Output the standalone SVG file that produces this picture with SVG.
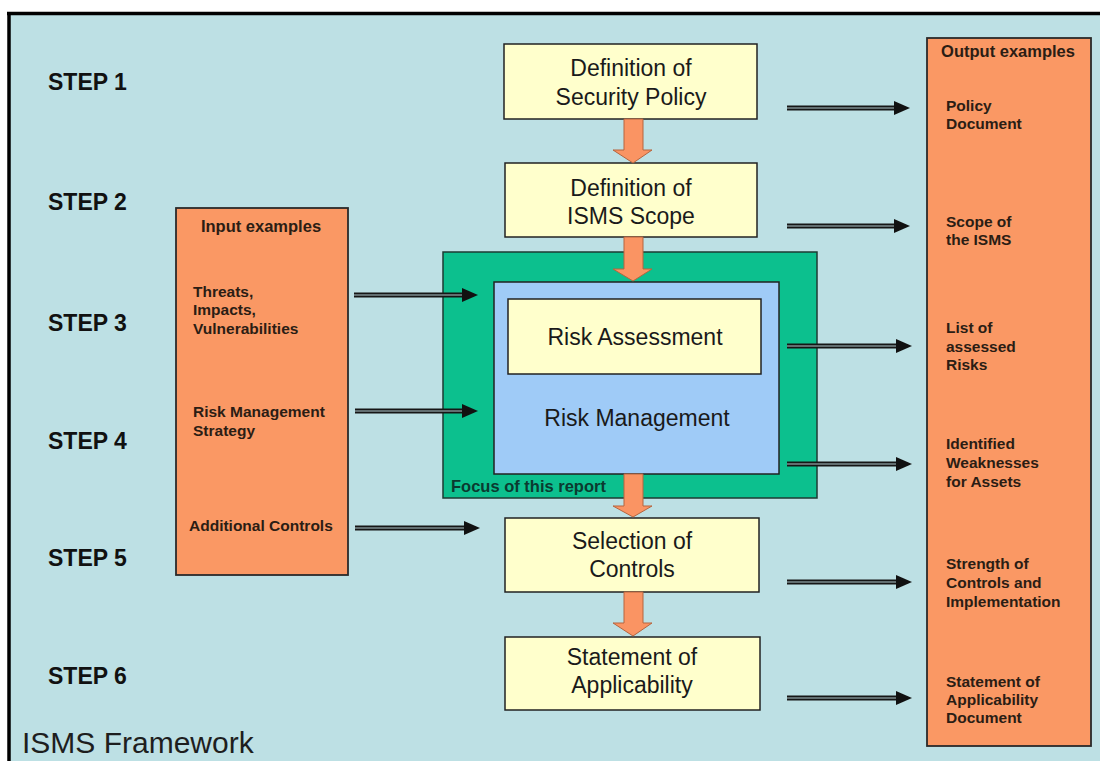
<svg xmlns="http://www.w3.org/2000/svg" width="1100" height="761" viewBox="0 0 1100 761">
<defs>
<style>
.step{font-family:"Liberation Sans",Arial,sans-serif;font-weight:bold;font-size:23px;fill:#111;}
.main{font-family:"Liberation Sans",Arial,sans-serif;font-size:23px;fill:#1a1a1a;text-anchor:middle;}
.lbl{font-family:"Liberation Sans",Arial,sans-serif;font-weight:bold;font-size:15.5px;fill:#2b1d14;}
.hdr{font-family:"Liberation Sans",Arial,sans-serif;font-weight:bold;font-size:16.5px;fill:#2b1d14;text-anchor:middle;}
.ybox{fill:#ffffcc;stroke:#222;stroke-width:1.5;}
.obox{fill:#fa9864;stroke:#2a2a2a;stroke-width:1.8;}
.dl{stroke:#161616;stroke-width:5;fill:none;}
.dli{stroke:#7d8c8f;stroke-width:1.4;fill:none;}
.blk{fill:#fa9463;stroke:#b5653f;stroke-width:1;}
</style>
<marker id="ah" markerUnits="userSpaceOnUse" viewBox="0 0 16 14" refX="2" refY="7" markerWidth="16" markerHeight="14" orient="auto">
<path d="M0,0 L16,7 L0,14 z" fill="#111"/>
</marker>
</defs>
<rect x="0" y="0" width="1100" height="761" fill="#ffffff"/>
<rect x="9" y="14" width="1091" height="747" fill="#bde0e4"/>
<line x1="7" y1="13.5" x2="1100" y2="13.5" stroke="#000" stroke-width="3.5"/>
<line x1="9" y1="12" x2="9" y2="761" stroke="#000" stroke-width="3.5"/>

<g id="steps">
<text class="step" x="48" y="90">STEP 1</text>
<text class="step" x="48" y="210">STEP 2</text>
<text class="step" x="48" y="331">STEP 3</text>
<text class="step" x="48" y="449">STEP 4</text>
<text class="step" x="48" y="566">STEP 5</text>
<text class="step" x="48" y="684">STEP 6</text>
</g>

<g id="title">
<text x="22" y="753" font-family="Liberation Sans, Arial, sans-serif" font-size="30" fill="#1e1e1e">ISMS Framework</text>
</g>

<g id="input-examples">
<rect class="obox" x="176" y="208" width="172" height="367"/>
<text class="hdr" x="261" y="232">Input examples</text>
<text class="lbl" x="193" y="297">Threats,</text>
<text class="lbl" x="193" y="315">Impacts,</text>
<text class="lbl" x="193" y="334">Vulnerabilities</text>
<text class="lbl" x="193" y="417">Risk Management</text>
<text class="lbl" x="193" y="436">Strategy</text>
<text class="lbl" x="189" y="531">Additional Controls</text>
</g>

<g id="output-examples">
<rect class="obox" x="927" y="38" width="164" height="708"/>
<text class="hdr" x="1008" y="57">Output examples</text>
<text class="lbl" x="946" y="111">Policy</text>
<text class="lbl" x="946" y="129">Document</text>
<text class="lbl" x="946" y="227">Scope of</text>
<text class="lbl" x="946" y="245">the ISMS</text>
<text class="lbl" x="946" y="333">List of</text>
<text class="lbl" x="946" y="352">assessed</text>
<text class="lbl" x="946" y="370">Risks</text>
<text class="lbl" x="946" y="449">Identified</text>
<text class="lbl" x="946" y="468">Weaknesses</text>
<text class="lbl" x="946" y="487">for Assets</text>
<text class="lbl" x="946" y="569">Strength of</text>
<text class="lbl" x="946" y="588">Controls and</text>
<text class="lbl" x="946" y="607">Implementation</text>
<text class="lbl" x="946" y="687">Statement of</text>
<text class="lbl" x="946" y="705">Applicability</text>
<text class="lbl" x="946" y="723">Document</text>
</g>

<g id="security-policy">
<rect class="ybox" x="504" y="44" width="253" height="75"/>
<text class="main" x="631" y="76">Definition of</text>
<text class="main" x="631" y="105">Security Policy</text>
</g>

<g id="isms-scope">
<rect class="ybox" x="505" y="163" width="252" height="74"/>
<text class="main" x="631" y="196">Definition of</text>
<text class="main" x="631" y="224">ISMS Scope</text>
</g>

<g id="focus">
<rect x="443" y="252" width="374" height="246" fill="#0cc08e" stroke="#1d3b33" stroke-width="1.5"/>
<text x="451" y="492" font-family="Liberation Sans, Arial, sans-serif" font-weight="bold" font-size="16.5" fill="#0b3a30">Focus of this report</text>
</g>

<g id="risk-management">
<rect x="494" y="282" width="285" height="192" fill="#9fcbf7" stroke="#222" stroke-width="1.5"/>
<text class="main" x="637" y="426" font-size="24" fill="#1c2a40">Risk Management</text>
</g>

<g id="risk-assessment">
<rect class="ybox" x="508" y="299" width="253" height="75"/>
<text class="main" x="635" y="345" font-size="24">Risk Assessment</text>
</g>

<g id="selection-controls">
<rect class="ybox" x="505" y="518" width="254" height="74"/>
<text class="main" x="632" y="549">Selection of</text>
<text class="main" x="632" y="577">Controls</text>
</g>

<g id="statement-applicability">
<rect class="ybox" x="505" y="637" width="255" height="73"/>
<text class="main" x="632" y="665">Statement of</text>
<text class="main" x="632" y="693">Applicability</text>
</g>

<g id="connectors">
<path class="blk" d="M624,119 L643,119 L643,150 L652,150 L633,163 L613,150 L624,150 Z"/>
<path class="blk" d="M624,237 L643,237 L643,269 L652,269 L633,281 L613,269 L624,269 Z"/>
<path class="blk" d="M624,474 L643,474 L643,506 L652,506 L633,517 L613,506 L624,506 Z"/>
<path class="blk" d="M624,592 L643,592 L643,623 L652,623 L633,636 L613,623 L624,623 Z"/>

<line class="dl" x1="354" y1="295" x2="464" y2="295" marker-end="url(#ah)"/>
<line class="dli" x1="354" y1="295" x2="462" y2="295"/>
<line class="dl" x1="355" y1="411" x2="464" y2="411" marker-end="url(#ah)"/>
<line class="dli" x1="355" y1="411" x2="462" y2="411"/>
<line class="dl" x1="355" y1="528" x2="466" y2="528" marker-end="url(#ah)"/>
<line class="dli" x1="355" y1="528" x2="464" y2="528"/>

<line class="dl" x1="787" y1="108" x2="896" y2="108" marker-end="url(#ah)"/>
<line class="dli" x1="787" y1="108" x2="894" y2="108"/>
<line class="dl" x1="787" y1="226" x2="896" y2="226" marker-end="url(#ah)"/>
<line class="dli" x1="787" y1="226" x2="894" y2="226"/>
<line class="dl" x1="787" y1="346" x2="898" y2="346" marker-end="url(#ah)"/>
<line class="dli" x1="787" y1="346" x2="896" y2="346"/>
<line class="dl" x1="787" y1="464" x2="898" y2="464" marker-end="url(#ah)"/>
<line class="dli" x1="787" y1="464" x2="896" y2="464"/>
<line class="dl" x1="787" y1="582" x2="898" y2="582" marker-end="url(#ah)"/>
<line class="dli" x1="787" y1="582" x2="896" y2="582"/>
<line class="dl" x1="787" y1="698" x2="898" y2="698" marker-end="url(#ah)"/>
<line class="dli" x1="787" y1="698" x2="896" y2="698"/>
</g>
</svg>
